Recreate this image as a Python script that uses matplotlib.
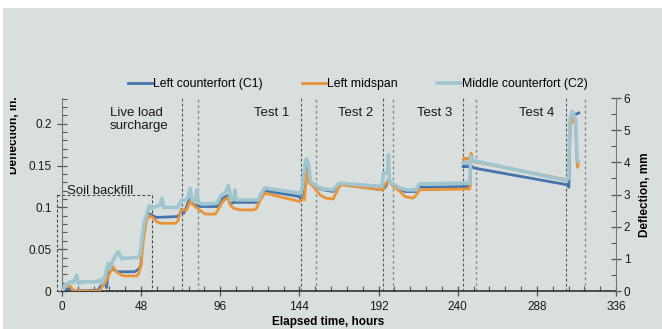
import matplotlib
matplotlib.use("Agg")
import matplotlib.pyplot as plt
from matplotlib.patches import Rectangle
from matplotlib.ticker import MultipleLocator
from matplotlib.transforms import Bbox, TransformedBbox

plt.rcParams["font.family"] = ["Liberation Sans", "DejaVu Sans"]

# --- Data (hours, inches) ---
# Left counterfort (C1)
t_c1 = [0, 4, 8, 22, 24, 26, 27, 28, 31, 33, 44, 46.5, 47.8, 48.7, 50, 52, 54.4, 57,
        70, 71.5, 72.6, 73.8, 75, 77.7, 79, 84, 94, 96.5, 100.5, 102, 104, 118, 120.5,
        123, 144, 145, 146.8, 147.6, 148.6, 150.5, 154, 158.5, 164.5, 167.5, 194, 196,
        198, 200, 205.5, 208, 215, 216.8, 219, 247.4, 247.8, 243.3, 248.5, 250, 306.5,
        307.4, 308.2, 310, 312.5, 313.5]
d_c1 = [0.000, 0.003, 0.000, 0.001, 0.008, 0.012, 0.004, 0.021, 0.027, 0.023, 0.023,
        0.026, 0.030, 0.061, 0.081, 0.093, 0.091, 0.088, 0.089, 0.092, 0.098, 0.093,
        0.098, 0.112, 0.104, 0.101, 0.101, 0.110, 0.114, 0.104, 0.106, 0.106, 0.110,
        0.120, 0.113, 0.109, 0.112, 0.150, 0.156, 0.130, 0.124, 0.121, 0.119, 0.128,
        0.121, 0.124, 0.133, 0.129, 0.121, 0.119, 0.119, 0.125, 0.124, 0.125, 0.149,
        0.149, 0.149, 0.147, 0.127, 0.124, 0.200, 0.210, 0.212, 0.213]

# Left midspan
t_mid = [0, 3, 5, 6.5, 8, 23, 24, 26, 28, 30, 31, 33, 36, 38, 45.5, 46.5, 48, 49.3,
         51.3, 53.3, 55.4, 57.4, 60, 69, 70.6, 71.5, 72.5, 75.5, 77.7, 80.7, 84.7, 86.8,
         93, 94, 96.8, 98.5, 100.9, 101.9, 104, 108, 116.5, 118, 120.3, 123, 144.3, 146,
         147, 148.6, 150, 151.5, 156.5, 160, 164.5, 167.6, 169.5, 194.5, 196.5, 198.5,
         200, 205, 208, 213, 215, 217, 247.3, 247.8, 243.3, 247.6, 248.1, 249.3, 306,
         307.2, 308, 309.8, 311.3, 312.6, 313.2]
d_mid = [0.000, 0.007, 0.006, 0.001, 0.000, 0.000, 0.004, 0.009, 0.017, 0.026, 0.029,
         0.023, 0.019, 0.018, 0.018, 0.021, 0.031, 0.060, 0.085, 0.090, 0.087, 0.083,
         0.081, 0.081, 0.085, 0.093, 0.097, 0.097, 0.107, 0.101, 0.095, 0.092, 0.092,
         0.095, 0.105, 0.109, 0.112, 0.103, 0.099, 0.097, 0.097, 0.099, 0.109, 0.117,
         0.107, 0.110, 0.109, 0.143, 0.129, 0.127, 0.115, 0.111, 0.110, 0.123, 0.127,
         0.121, 0.129, 0.131, 0.127, 0.119, 0.113, 0.111, 0.115, 0.121, 0.122, 0.158,
         0.158, 0.158, 0.165, 0.155, 0.133, 0.136, 0.195, 0.208, 0.200, 0.148, 0.152]

# Middle counterfort (C2)
t_c2 = [0, 2, 5, 7, 8.9, 10, 12, 21, 23, 24, 26, 28, 29, 31, 34, 36, 46, 47.3, 48.7,
        50, 51.9, 52.9, 54.4, 57, 59.6, 60.6, 61.6, 70, 71.6, 72.6, 74.5, 76.5, 77.7,
        78.8, 81, 81.7, 82.7, 85, 94, 96, 99, 100.9, 102.5, 104.3, 104.9, 105.5, 119,
        121, 123, 144.3, 145.5, 147.4, 148.2, 149.5, 150.8, 154.4, 158.5, 164.5, 168.2,
        194, 195, 197.5, 198, 198.6, 205, 209, 215, 216.5, 243, 247.4, 247.8, 243.3,
        247.6, 248.2, 249.5, 306, 307.2, 308, 309.5, 311.5, 312.4, 313]
d_c2 = [0.000, 0.007, 0.011, 0.010, 0.019, 0.009, 0.011, 0.011, 0.013, 0.009, 0.017,
        0.033, 0.027, 0.037, 0.047, 0.039, 0.040, 0.043, 0.065, 0.083, 0.095, 0.102,
        0.099, 0.101, 0.103, 0.111, 0.100, 0.100, 0.105, 0.109, 0.108, 0.112, 0.123,
        0.109, 0.108, 0.121, 0.106, 0.104, 0.105, 0.113, 0.118, 0.126, 0.109, 0.110,
        0.121, 0.109, 0.109, 0.117, 0.123, 0.117, 0.121, 0.150, 0.158, 0.152, 0.131,
        0.125, 0.122, 0.121, 0.129, 0.125, 0.141, 0.141, 0.163, 0.131, 0.123, 0.121,
        0.121, 0.128, 0.129, 0.129, 0.153, 0.153, 0.153, 0.161, 0.156, 0.132, 0.135,
        0.205, 0.215, 0.205, 0.157, 0.155]

# test phase boundaries (hours): each pair = start / end
phase_dark = [73, 144.7, 194.4, 243.4, 305.5]
phase_light = [82.5, 154, 201, 250.9, 317.4]
phase_labels = ["Test 1", "Test 2", "Test 3", "Test 4"]
phase_label_x = [127.4, 178.2, 226.2, 288]

backfill_end = 54.4
backfill_top = 0.1152

BG = "#d9dfdd"
BLUE = "#4675ad"
ORANGE = "#e8953a"
LIGHT = "#9fc6cf"

fig = plt.figure(figsize=(6.62, 3.29), dpi=100, facecolor="white")
fig.patches.append(Rectangle((3 / 662, 0), 1 - 3 / 662, 321 / 329, transform=fig.transFigure,
                             facecolor=BG, edgecolor="none", zorder=-10))

ax = fig.add_axes([62 / 662, 38 / 329, 554 / 662, 193 / 329])
ax.set_facecolor("none")

l1, = ax.plot(t_c1, d_c1, color=BLUE, lw=2.0, label="Left counterfort (C1)", zorder=3)
l2, = ax.plot(t_mid, d_mid, color=ORANGE, lw=2.0, label="Left midspan", zorder=3)
l3, = ax.plot(t_c2, d_c2, color=LIGHT, lw=2.6, label="Middle counterfort (C2)", zorder=4)

for x in phase_dark:
    ax.axvline(x, color="#555555", lw=0.8, ls=(0, (2.5, 2)), zorder=2)
for x in phase_light:
    ax.axvline(x, color="#8a8a8a", lw=1.0, ls=(0, (2, 2)), zorder=2)

# soil backfill box
bx = [-3.2, backfill_end, backfill_end, -3.2, -3.2]
by = [backfill_top, backfill_top, 0, 0, backfill_top]
ax.plot(bx, by, color="#444444", lw=0.8, ls=(0, (2.5, 2)), clip_on=False, zorder=2)
ax.text(3.2, 0.1162, "Soil backfill", fontsize=9.5, color="#1a1a1a", va="baseline", ha="left")
ax.text(29.1, 0.205, "Live load\nsurcharge", fontsize=9.5, color="#1a1a1a",
        va="center", ha="left", linespacing=1.15)
for lab, x in zip(phase_labels, phase_label_x):
    ax.text(x, 0.2125, lab, fontsize=9.5, color="#1a1a1a", va="center", ha="center")

ax.set_xlim(0, 336)
ax.set_ylim(0, 0.2308)
ax.xaxis.set_major_locator(MultipleLocator(48))
ax.xaxis.set_minor_locator(MultipleLocator(9.6))
ax.yaxis.set_major_locator(MultipleLocator(0.05))
ax.yaxis.set_minor_locator(MultipleLocator(0.01))
ax.set_yticks([0, 0.05, 0.1, 0.15, 0.2])
ax.set_yticklabels(["0", "0.05", "0.1", "0.15", "0.2"])

for s in ["top", "right"]:
    ax.spines[s].set_visible(False)
ax.spines["left"].set_color("#777777")
ax.spines["bottom"].set_color("#333333")
ax.spines["bottom"].set_linewidth(1.2)
ax.tick_params(axis="both", which="major", direction="inout", length=7, width=0.9,
               labelsize=8.5, labelcolor="#1a1a1a", color="#555555")
ax.tick_params(axis="y", which="major", pad=4)
ax.tick_params(axis="x", which="major", pad=4)
ax.tick_params(axis="both", which="minor", direction="in", length=3.5, width=0.8, color="#555555")

ax2 = ax.twinx()
ax2.set_ylim(0, 6)
ax2.yaxis.set_major_locator(MultipleLocator(1))
ax2.yaxis.set_minor_locator(MultipleLocator(0.5))
for s in ["top", "left", "bottom"]:
    ax2.spines[s].set_visible(False)
ax2.spines["right"].set_color("#777777")
ax2.tick_params(axis="y", which="major", direction="inout", length=7, width=0.9,
                labelsize=8.5, labelcolor="#1a1a1a", color="#555555", pad=2)
ax2.tick_params(axis="y", which="minor", direction="in", length=3.5, width=0.8, color="#555555")
ax2.set_ylabel("Deflection, mm", fontsize=8.5, fontweight="bold", labelpad=6)

ax.set_xlabel("Elapsed time, hours", fontsize=8.5, fontweight="bold")
ax.xaxis.set_label_coords(0.48, -0.128)

# left label, partly cut off at the left edge like the source
ylab = fig.text(20 / 662, 194 / 329, "Deflection, in.", rotation=90, fontsize=8.5,
                fontweight="bold", ha="right", va="center")
ylab.set_clip_box(TransformedBbox(Bbox([[10 / 662, 0], [1, 1]]), fig.transFigure))
ylab.set_clip_on(True)

fig.legend(handles=[l1, l2, l3], loc="center left", bbox_to_anchor=(128 / 662, 1 - 84 / 329),
           ncol=3, frameon=False, fontsize=8.8, handlelength=2.05, handletextpad=0.0,
           columnspacing=3.2, borderpad=0, borderaxespad=0)

fig.savefig("out.png", dpi=100, facecolor=fig.get_facecolor())
